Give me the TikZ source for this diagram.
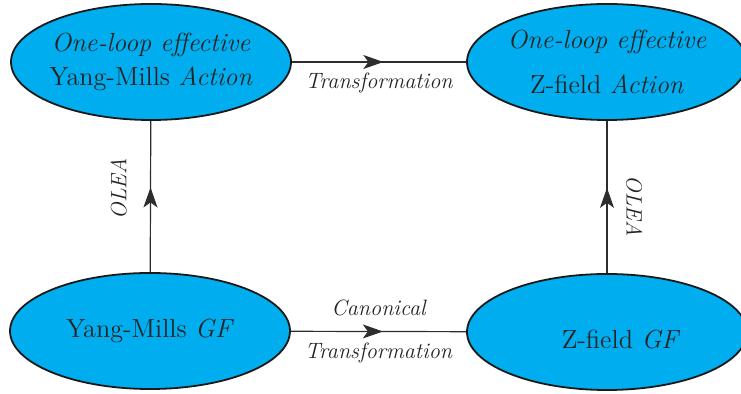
\documentclass[tikz,border=0pt]{standalone}
\usepackage{amsmath}
\usepackage{tikz}
\usetikzlibrary{arrows.meta,positioning,calc,shapes.geometric,decorations.markings}
\definecolor{olcyan}{RGB}{0,174,239}
\definecolor{oltext}{RGB}{38,34,35}
\definecolor{olline}{RGB}{45,45,45}

\begin{document}
\begin{tikzpicture}[x=0.5pt,y=-0.5pt,baseline,
    blob/.style={ellipse,draw=black!90,line width=0.9pt,fill=olcyan,text=oltext,
      minimum width=140pt,minimum height=58pt,inner sep=0pt,inner xsep=-8pt,align=center,
      font=\fontsize{13.1}{17}\selectfont},
    flow/.style={olline,line width=0.6pt,postaction={decorate},
      decoration={markings,mark=at position #1 with {\arrow{Stealth[length=10pt,width=7pt,inset=2.5pt]}}}},
    flow/.default=0.525,
    lab/.style={font=\fontsize{11.1}{13}\selectfont\itshape,text=oltext,inner sep=2pt}]
    \useasboundingbox (0,0) rectangle (741,394);
    % the four actions / generating functionals
    \node[blob] (ymact) at (151,62) {\textit{One-loop effective}\\Yang-Mills \textit{Action}};
    \node[blob] (zact) at (607,62) {\textit{One-loop effective}\\[5.5pt]Z-field \textit{Action}};
    \node[blob] (ymgf) at (150,331) {Yang-Mills \textit{GF}};
    \node[blob] (zgf) at (607,332) {\hspace*{14pt}\rule{0pt}{17pt}Z-field \textit{GF}};
    % connectors
    \draw[flow] (ymact) -- node[lab,below=3pt] {Transformation} (zact);
    \draw[flow] (ymgf) -- node[lab,above=5.5pt] {Canonical}
      node[lab,below=3.5pt] {Transformation} (zgf);
    \draw[flow=0.56] (ymgf) -- node[lab,pos=0.55,rotate=90,anchor=south,inner ysep=11.5pt] {OLEA} (ymact);
    \draw[flow=0.56] (zgf) -- node[lab,pos=0.44,rotate=-90,anchor=south,inner ysep=9.3pt] {OLEA} (zact);
\end{tikzpicture}
\end{document}
